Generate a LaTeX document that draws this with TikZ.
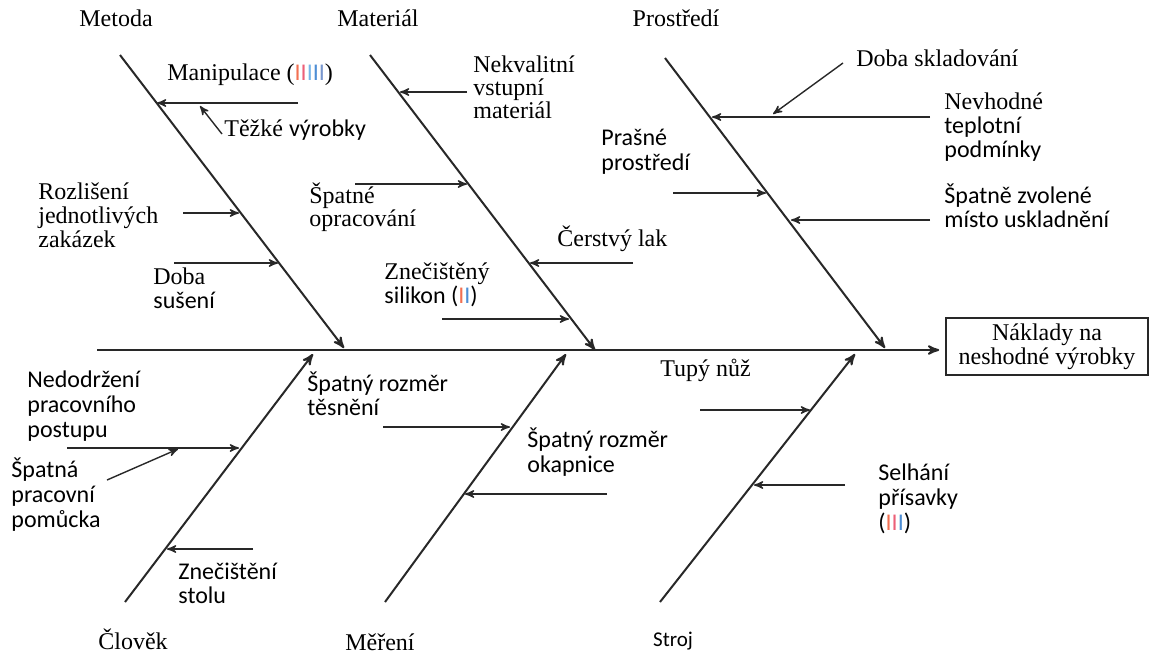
\documentclass[tikz,border=0pt]{standalone}
\usepackage{fontspec}
\setmainfont{Liberation Serif}
\setsansfont{Carlito}
\usetikzlibrary{arrows}
\tikzset{>=stealth'}
\definecolor{barorange}{RGB}{242,112,82}
\definecolor{barpink}{RGB}{236,96,120}
\definecolor{barsky}{RGB}{120,182,232}
\definecolor{barblue}{RGB}{78,142,212}
\definecolor{bargray}{RGB}{120,150,205}
\definecolor{inkgray}{RGB}{40,40,40}

\begin{document}
\begin{tikzpicture}[x=0.5pt,y=-0.5pt,
	bone/.style={->,draw=inkgray,line width=1pt},
	cause/.style={->,draw=inkgray,line width=0.7pt},
	lbl/.style={anchor=base west,align=left,inner sep=0pt,font=\fontsize{12}{12}\selectfont},
	slbl/.style={anchor=base west,align=left,inner sep=0pt,font=\sffamily\fontsize{12}{12.5}\selectfont},
	hdr/.style={anchor=base,inner sep=0pt,font=\fontsize{12}{12}\selectfont}]
	\useasboundingbox (0,0) rectangle (1150,655);

	% headers
	\node[hdr] (metoda) at (116,26) {Metoda};
	\node[hdr] (material) at (378,26) {Materiál};
	\node[hdr] (prostredi) at (676,26) {Prostředí};
	\node[hdr] (clovek) at (133,649) {Člověk};
	\node[hdr] (mereni) at (380,650) {Měření};
	\node[hdr,font=\sffamily\fontsize{10.5}{11}\selectfont] (stroj) at (673,646) {Stroj};

	% effect
	\node[draw=inkgray,line width=0.8pt,minimum width=101pt,minimum height=28.5pt,inner sep=0pt,align=center,font=\fontsize{12}{12}\selectfont] (effect) at (1047,346.5) {Náklady na\\neshodné výrobky};
	\coordinate (head) at (97,350);
	\draw[bone] (head) -- ([xshift=-3pt]effect.west |- head);

	% bones
	\coordinate (mt) at (120,55);   \coordinate (mb) at (344,348);
	\coordinate (at) at (370,55);   \coordinate (ab) at (595,350);
	\coordinate (pt) at (665,58);   \coordinate (pb) at (885,348);
	\coordinate (ct) at (313,354);  \coordinate (cb) at (125,602);
	\coordinate (et) at (566,354);  \coordinate (eb) at (385,602);
	\coordinate (st) at (855,354);  \coordinate (sb) at (660,602);
	\path[every edge/.append style={bone}] (mt) edge (mb) (at) edge (ab) (pt) edge (pb)
		(cb) edge (ct) (eb) edge (et) (sb) edge (st);

	% causes (anchored at the baseline of the last line)
	\node[lbl] (manip) at (167,80) {Manipulace ({\sffamily\textcolor{barorange}{I}\textcolor{barpink}{I}\textcolor{barsky}{I}\textcolor{barblue}{I}\textcolor{bargray}{I}})};
	\node[lbl] (tezke) at (224,136) {Těžké {\sffamily výrobky}};
	\node[lbl] (rozlis) at (38,247) {Rozlišení\\jednotlivých\\zakázek};
	\node[lbl] (suseni) at (153,308) {Doba\\{\sffamily sušení}};
	\node[lbl,font=\fontsize{12}{11.5}\selectfont] (nekval) at (473,118) {Nekvalitní\\vstupní\\materiál};
	\node[lbl,font=\fontsize{12}{11.5}\selectfont] (opracov) at (309,226) {Špatné\\opracování};
	\node[slbl] (prasne) at (601,170) {Prašné\\prostředí};
	\node[lbl] (sklad) at (856,66) {Doba skladování};
	\node[lbl] (teplo) at (944,157) {Nevhodné\\{\sffamily teplotní}\\{\sffamily podmínky}};
	\node[slbl,font=\sffamily\fontsize{12}{12}\selectfont] (misto) at (944,227) {Špatně zvolené\\místo uskladnění};
	\node[lbl] (lak) at (557,246) {Čerstvý lak};
	\node[lbl] (silikon) at (384,303) {Znečištěný\\{\sffamily silikon (\textcolor{barorange}{I}\textcolor{barblue}{I})}};
	\node[lbl] (nuz) at (660,376) {Tupý nůž};
	\node[slbl] (postup) at (27,437) {Nedodržení\\pracovního\\postupu};
	\node[slbl] (pomucka) at (11,527) {Špatná\\pracovní\\pomůcka};
	\node[slbl,font=\sffamily\fontsize{12}{12}\selectfont] (stul) at (178,603) {Znečištění\\stolu};
	\node[slbl,font=\sffamily\fontsize{12}{12}\selectfont] (tesneni) at (307,415) {Špatný rozměr\\těsnění};
	\node[slbl] (okap) at (527,472) {Špatný rozměr\\okapnice};
	\node[slbl] (prisav) at (878,530) {Selhání\\přísavky\\(\textcolor{barorange}{I}\textcolor{barpink}{I}\textcolor{barblue}{I})};

	% arrow ends
	\coordinate (m1) at (298,103);  \coordinate (m1e) at (157,103);
	\coordinate (m2) at (222,134);  \coordinate (m2e) at (200,106);
	\coordinate (m3) at (183,213);  \coordinate (m3e) at (239,213);
	\coordinate (m4) at (174,263);  \coordinate (m4e) at (278,263);
	\coordinate (a1) at (467,92);   \coordinate (a1e) at (400,92);
	\coordinate (a2) at (355,184);  \coordinate (a2e) at (467,184);
	\coordinate (a3) at (633,263);  \coordinate (a3e) at (530,263);
	\coordinate (a4) at (442,319);  \coordinate (a4e) at (569,319);
	\coordinate (p1) at (930,117);  \coordinate (p1e) at (712,117);
	\coordinate (p2) at (843,63);   \coordinate (p2e) at (773,114);
	\coordinate (p3) at (673,193);  \coordinate (p3e) at (766,193);
	\coordinate (p4) at (930,220);  \coordinate (p4e) at (791,220);
	\coordinate (c1) at (67,448);   \coordinate (c1e) at (239,448);
	\coordinate (c2) at (107,480);  \coordinate (c2e) at (178,449);
	\coordinate (c3) at (253,549);  \coordinate (c3e) at (167,549);
	\coordinate (e1) at (383,427);  \coordinate (e1e) at (510,427);
	\coordinate (e2) at (607,494);  \coordinate (e2e) at (465,494);
	\coordinate (s1) at (700,410);  \coordinate (s1e) at (810,410);
	\coordinate (s2) at (845,485);  \coordinate (s2e) at (754,485);
	\path[every edge/.append style={cause}]
		(m1) edge (m1e) (m2) edge (m2e) (m3) edge (m3e) (m4) edge (m4e)
		(a1) edge (a1e) (a2) edge (a2e) (a3) edge (a3e) (a4) edge (a4e)
		(p1) edge (p1e) (p2) edge (p2e) (p3) edge (p3e) (p4) edge (p4e)
		(c1) edge (c1e) (c2) edge (c2e) (c3) edge (c3e)
		(e1) edge (e1e) (e2) edge (e2e)
		(s1) edge (s1e) (s2) edge (s2e);
\end{tikzpicture}
\end{document}
